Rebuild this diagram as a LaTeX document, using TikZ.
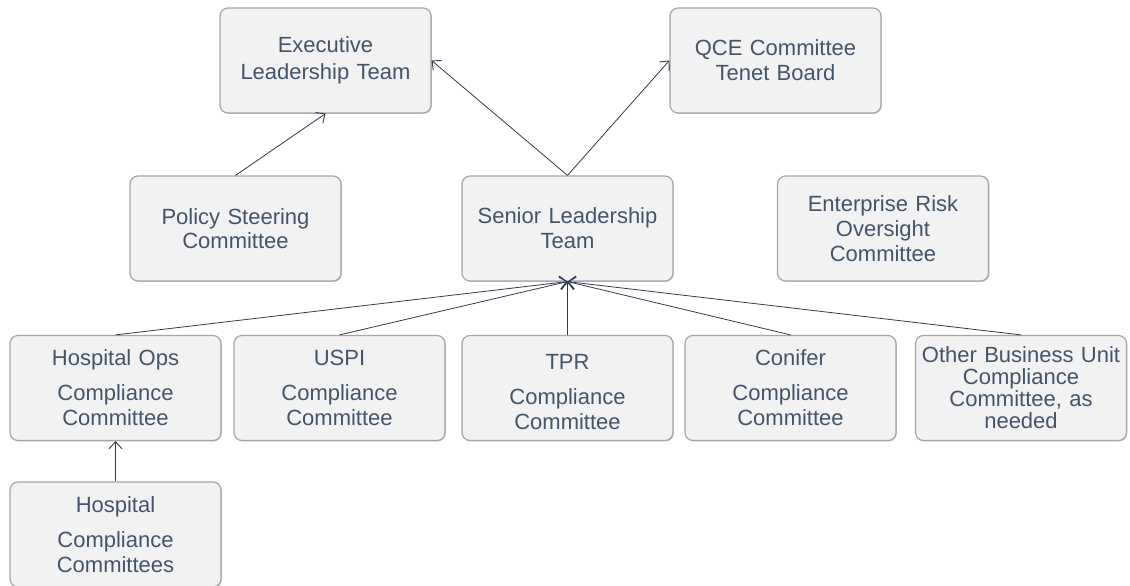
\documentclass[tikz,border=0pt]{standalone}
\usepackage{fontspec}
\setmainfont{Liberation Sans}
\usetikzlibrary{arrows.meta,shadows}
\definecolor{boxfill}{HTML}{F2F2F2}
\definecolor{boxline}{HTML}{A6A6A6}
\definecolor{txt}{HTML}{44546A}
\definecolor{arr}{HTML}{2E3A4E}
\tikzset{
  orgbox/.style={draw=boxline, line width=1.2pt, fill=boxfill, rounded corners=8pt,
    minimum width=211pt, minimum height=105pt, inner sep=0pt, text width=207pt,
    align=center, text=txt, font=\fontsize{22}{25}\selectfont,
    drop shadow={shadow xshift=0.8pt, shadow yshift=-0.8pt, opacity=0.25, fill=black}},
  link/.style={draw=arr, line width=0.8pt, -{Straight Barb[length=7pt,width=13pt,line width=0.9pt]}}
}
\begin{document}
\begin{tikzpicture}[x=1pt,y=-1pt]
\useasboundingbox (0,0) rectangle (1130,586);
\clip (0,0) rectangle (1130,586);
\node[orgbox, font=\fontsize{22}{27}\selectfont] (exec) at (325.5,60.5) {Executive\\Leadership Team};
\node[orgbox] (qce) at (775.5,60.5) {QCE Committee\\Tenet Board};
\node[orgbox, font=\fontsize{22}{24}\selectfont] (policy) at (235.5,228.5) {Policy Steering\\Committee};
\node[orgbox] (senior) at (567.5,228.5) {Senior Leadership\\Team};
\node[orgbox] (erisk) at (883,228.5) {Enterprise Risk\\Oversight\\Committee};
\node[orgbox] (hops) at (115.5,388) {Hospital Ops\\[10pt]Compliance\\Committee};
\node[orgbox] (uspi) at (339.5,388) {USPI\\[10pt]Compliance\\Committee};
\node[orgbox] (tpr) at (567.5,388) {\rule{0pt}{24pt}TPR\\[10pt]Compliance\\Committee};
\node[orgbox] (conifer) at (790.5,388) {Conifer\\[10pt]Compliance\\Committee};
\node[orgbox, font=\fontsize{22}{22}\selectfont] (other) at (1021,388) {Other Business Unit\\Compliance\\Committee, as\\needed};
\node[orgbox] (hosp) at (115.5,534.5) {Hospital\\[10pt]Compliance\\Committees};
\draw[link] (policy.north) -- (exec.south);
\draw[link] (senior.north) -- (exec.east);
\draw[link] (senior.north) -- (qce.west);
\draw[link] (hops.north) -- (senior.south);
\draw[link] (uspi.north) -- (senior.south);
\draw[link] (tpr.north) -- (senior.south);
\draw[link] (conifer.north) -- (senior.south);
\draw[link] (other.north) -- (senior.south);
\draw[link] (hosp.north) -- (hops.south);
\end{tikzpicture}
\end{document}
